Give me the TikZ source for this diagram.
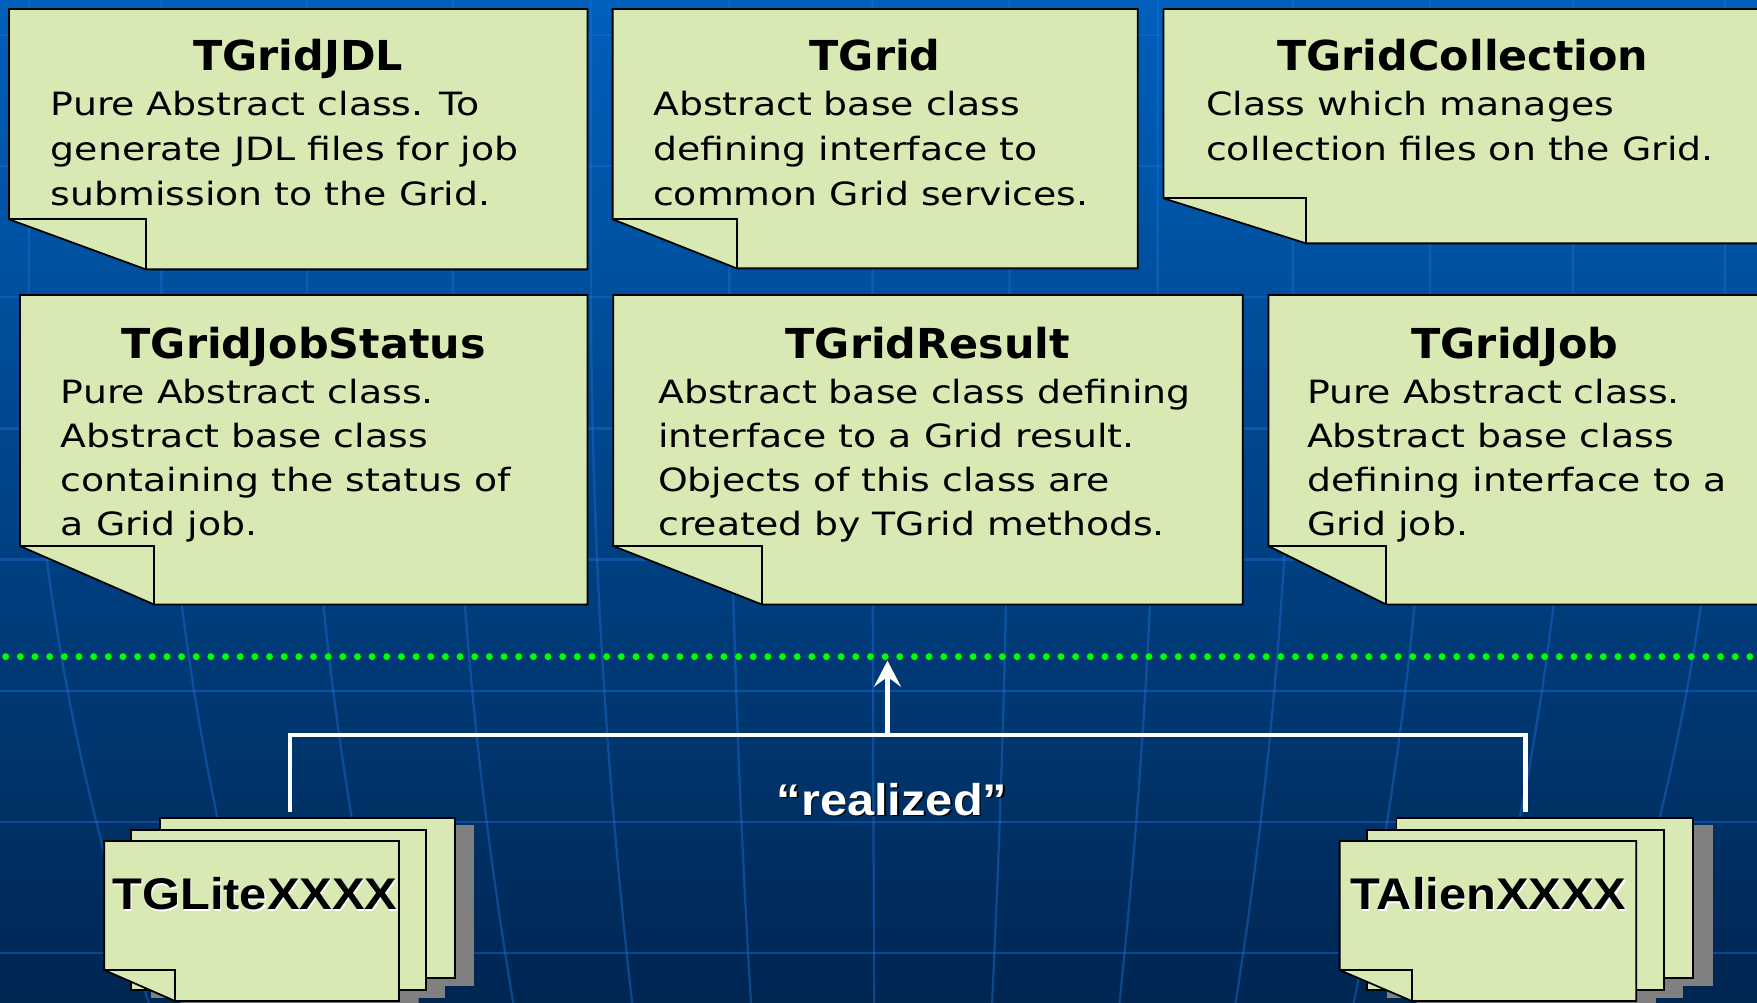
\documentclass[tikz,border=0pt]{standalone}
\usepackage{fontspec}
\usetikzlibrary{arrows.meta,calc}
\newfontfamily\bodyfam[FakeStretch=1.18]{DejaVu Sans}
\newfontfamily\titlefam[FakeStretch=1.04]{DejaVu Sans}
\newfontfamily\cardfam[FakeStretch=1.1]{Liberation Sans}
\definecolor{notegreen}{RGB}{217,233,180}
\definecolor{bgtop}{RGB}{0,96,188}
\definecolor{bgmid}{RGB}{0,74,148}
\definecolor{bgbot}{RGB}{0,38,82}
\definecolor{gridblue}{RGB}{30,110,210}
\definecolor{dotgreen}{RGB}{0,255,0}
\definecolor{shadowgray}{RGB}{128,128,128}
\newcommand{\notelines}[1]{\parbox[t]{300pt}{\raggedright #1}}
\newcommand{\notebox}[7]{% left, top, right, bottom, foldx, foldy, name
  \path[notebox] (#1,#2) -- (#3,#2) -- (#3,#4) -- (#5,#4) -- (#1,#6) -- cycle;
  \draw[foldline] (#1,#6) -- (#5,#6) -- (#5,#4);
  \coordinate (#7) at ({(#1+#3)/2},{(#2+#4)/2});
}
\newcommand{\cardstack}[5]{% fx, w, midoff, backoff, foldx
  \fill[shadowgray] ({#1+#4+17.5},736.5) rectangle ++(#2,143.3);
  \fill[shadowgray] ({#1+#3+17.5},747.6) rectangle ++(#2,142.7);
  \fill[shadowgray] ({#1+17.5},757.4) -- ++(#2,0) -- ++(0,142.8) -- ({#5+17.5},900.2) -- ({#1+17.5},872.5) -- cycle;
  \filldraw[cardbox] ({#1+#4},729.7) rectangle ++(#2,143.3);
  \filldraw[cardbox] ({#1+#3},740.8) rectangle ++(#2,142.7);
  \filldraw[cardbox] (#1,750.6) -- ++(#2,0) -- ++(0,142.8) -- (#5,893.4) -- (#1,865.7) -- cycle;
  \draw[cardbox, fill=none] (#1,865.7) -- (#5,865.7) -- (#5,893.4);
}
\begin{document}
\begin{tikzpicture}[x=0.5pt, y=-0.5pt,
  declare function={gfac(\u)=1-0.14*max(0,(\u-250)/645)*max(0,(\u-250)/645);},
  notebox/.style={fill=notegreen, draw=black, line width=0.8pt, line join=miter},
  foldline/.style={draw=black, line width=0.8pt},
  cardbox/.style={fill=notegreen, draw=black, line width=0.8pt},
  titletext/.style={anchor=base, inner sep=0pt, font=\titlefam\bfseries\fontsize{18.4pt}{22pt}\selectfont},
  bodytop/.style={anchor=base west, inner sep=0pt, font=\bodyfam\fontsize{14.3pt}{20.1pt}\selectfont},
  bodylow/.style={anchor=base west, inner sep=0pt, font=\bodyfam\fontsize{14.3pt}{19.6pt}\selectfont},
  cardtext/.style={anchor=base west, inner sep=0pt, font=\cardfam\bfseries\fontsize{19.8pt}{22pt}\selectfont},
  gridline/.style={draw=gridblue, draw opacity=0.45, line width=1pt},
  wire/.style={draw=white, line width=2pt},
  sepline/.style={draw=dotgreen, line width=3.1pt, line cap=round, dash pattern=on 0pt off 6.54pt}
]
\useasboundingbox (0,0) rectangle (1568,895);
\clip (0,0) rectangle (1568,895);
% background
\shade[top color=bgtop, middle color=bgmid, bottom color=bgbot] (0,0) rectangle (1568,895);
\foreach \yy in {31,148.1,265.2,382.3,499.4,616.5,733.6,850.7}
  \draw[gridline] (0,\yy) -- (1568,\yy);
\foreach \D in {-764.2,-646,-516,-386,-262.6,-139.3,-11.4,110.9,243.1,363.6,486.1,613.8,749.2}
  \draw[gridline] plot[domain=0:895, samples=40, variable=\t] ({790+\D*gfac(\t)}, {\t});

% top row notes
\notebox{8}{8}{524.3}{240.4}{130.1}{195.7}{jdlBox}
\node[titletext] (jdlTitle) at (266,63) {TGridJDL};
\node[bodytop] (jdlBody) at (45,103.2) {\notelines{Pure Abstract class. To\\generate JDL files for job\\submission to the Grid.}};

\notebox{546.7}{8}{1015.4}{239.5}{657.4}{195.7}{gridBox}
\node[titletext] (gridTitle) at (781,63) {TGrid};
\node[bodytop] (gridBody) at (582.5,103.2) {\notelines{Abstract base class\\defining interface to\\common Grid services.}};

\notebox{1038.4}{8}{1573}{217.2}{1165.6}{177}{collBox}
\node[titletext] (collTitle) at (1305.5,63) {TGridCollection};
\node[bodytop] (collBody) at (1076,103.2) {\notelines{Class which manages\\collection files on the Grid.}};

% second row notes
\notebox{17.8}{263.3}{524.3}{539.4}{137.3}{487.3}{statBox}
\node[titletext] (statTitle) at (271,319.8) {TGridJobStatus};
\node[bodylow] (statBody) at (54,360) {\notelines{Pure Abstract class.\\Abstract base class\\containing the status of\\a Grid job.}};

\notebox{547.3}{263.3}{1109}{539.4}{679.8}{487.3}{resBox}
\node[titletext] (resTitle) at (828,319.8) {TGridResult};
\node[bodylow] (resBody) at (587,360) {\notelines{Abstract base class defining\\interface to a Grid result.\\Objects of this class are\\created by TGrid methods.}};

\notebox{1132}{263.3}{1573}{539.4}{1237}{487.3}{jobBox}
\node[titletext] (jobTitle) at (1352,319.8) {TGridJob};
\node[bodylow] (jobBody) at (1166,360) {\notelines{Pure Abstract class.\\Abstract base class\\defining interface to a\\Grid job.}};

% separator
\coordinate (sepL) at (5.1,586);
\coordinate (sepR) at (1572,586);
\draw[sepline] (sepL) -- (sepR);

% stacks
\cardstack{93}{263}{24}{49.8}{156.4}
\cardstack{1195.5}{264.7}{24.5}{50.7}{1260.1}
\node[cardtext, text=white] (glShadow) at (101,813) {TGLiteXXXX};
\node[cardtext, text=black] (glText) at (100,812) {TGLiteXXXX};
\node[cardtext, text=white] (alShadow) at (1206,813) {TAlienXXXX};
\node[cardtext, text=black] (alText) at (1205,812) {TAlienXXXX};

% connectors
\coordinate (glTop) at (258.6,724.4);
\coordinate (alTop) at (1361.2,724.4);
\coordinate (junction) at (792,656);
\coordinate (sepHit) at (792,589.6);
\draw[wire, line join=miter] (glTop) -- (glTop |- junction) -- (alTop |- junction) -- (alTop);
\draw[wire, -{Stealth[length=11.6pt,width=12pt,inset=4.4pt]}] (junction) -- (sepHit);
\node[anchor=base, inner sep=0pt, font=\cardfam\bfseries\fontsize{19.8pt}{22pt}\selectfont, text=black] (realShadow) at (797.5,729) {“realized”};
\node[anchor=base, inner sep=0pt, font=\cardfam\bfseries\fontsize{19.8pt}{22pt}\selectfont, text=white] (realText) at (796,727.4) {“realized”};
\end{tikzpicture}
\end{document}
